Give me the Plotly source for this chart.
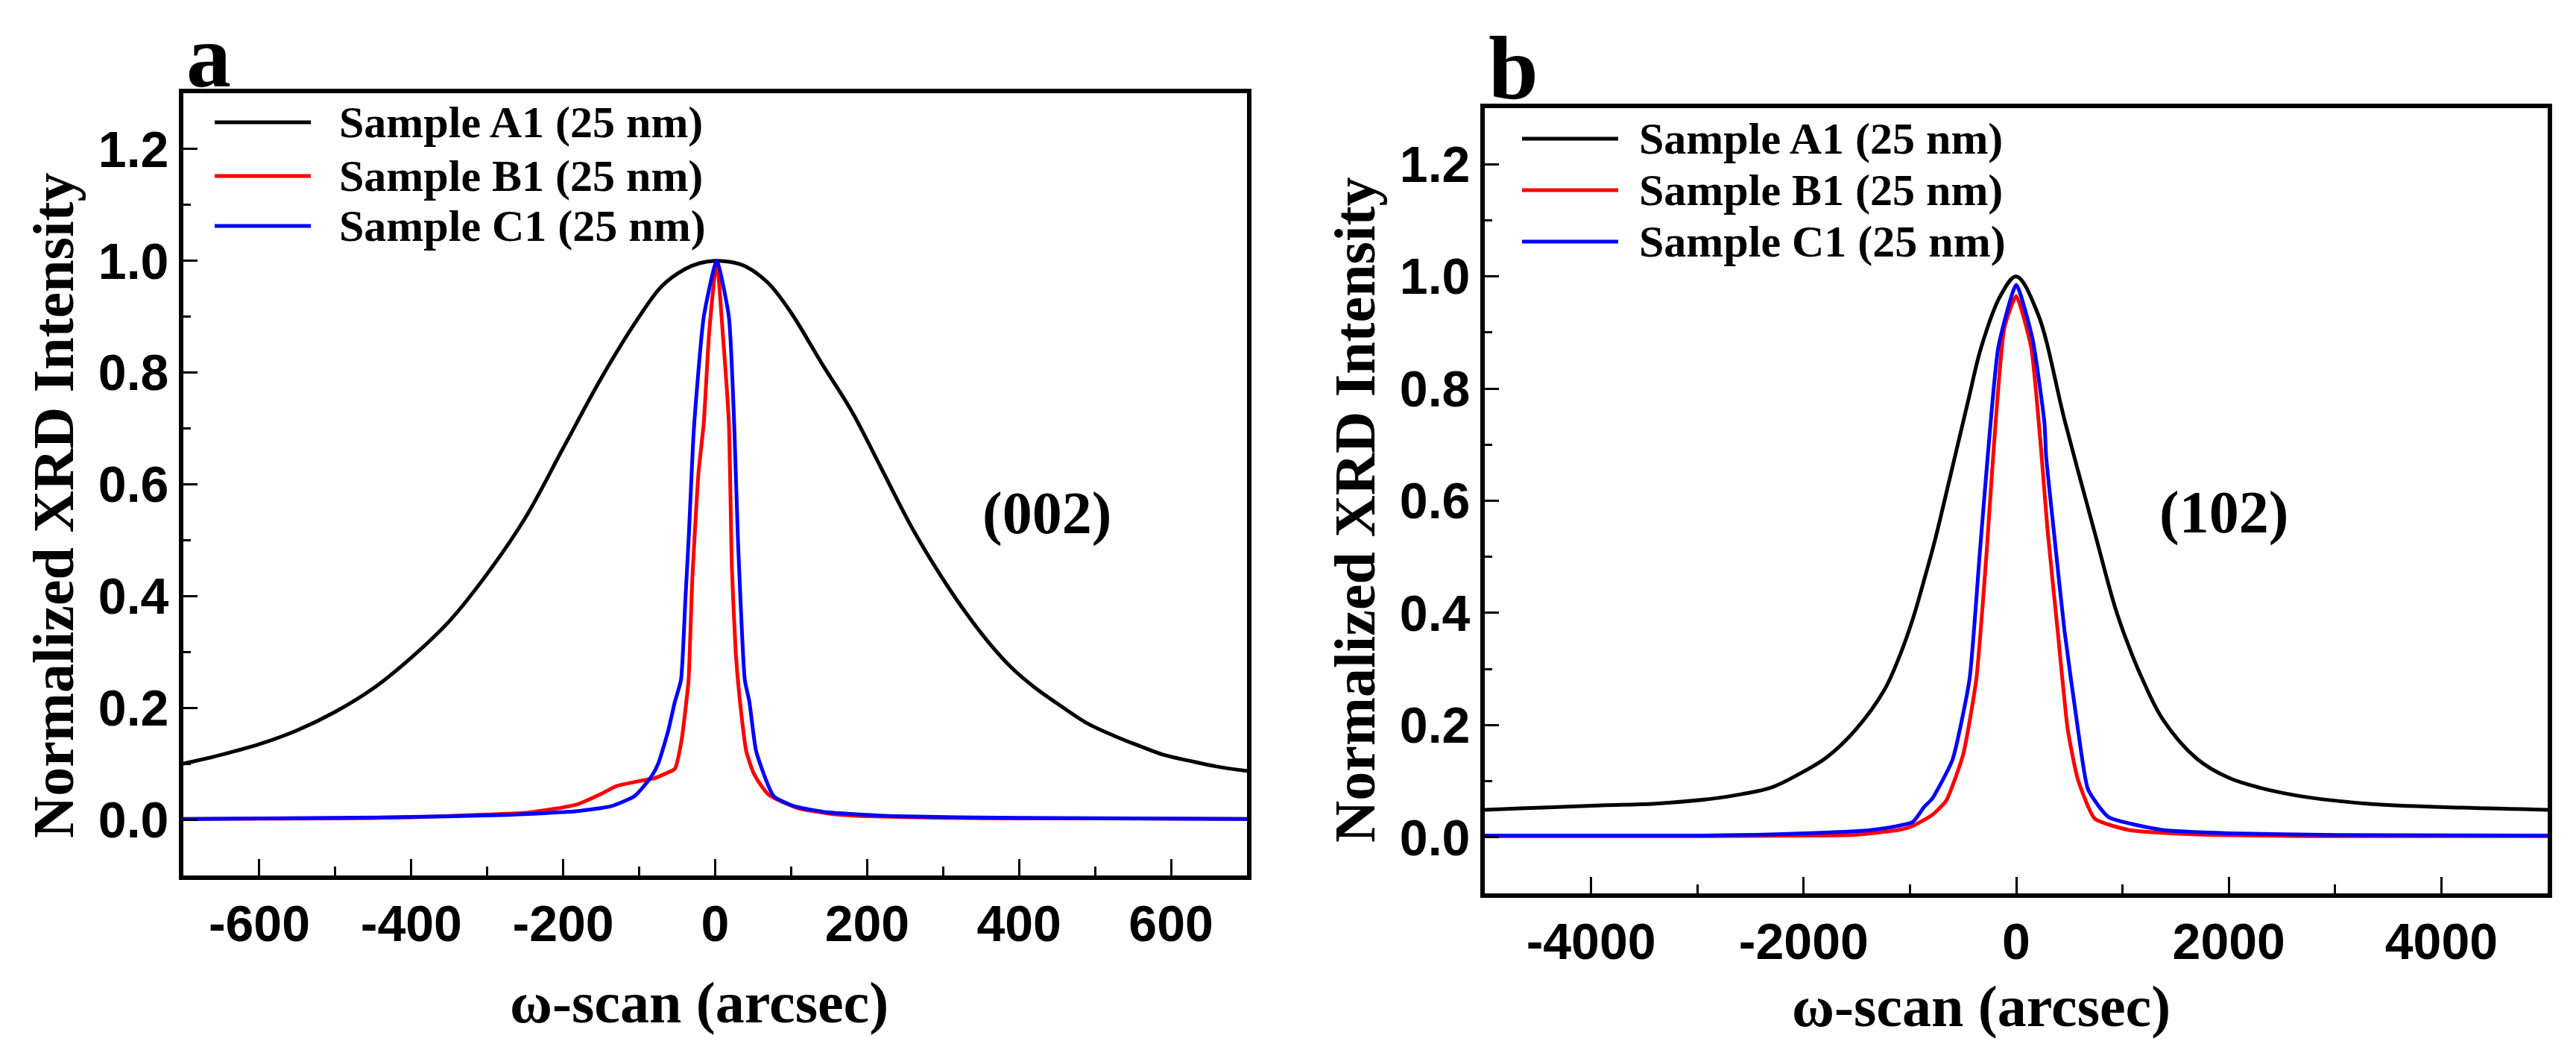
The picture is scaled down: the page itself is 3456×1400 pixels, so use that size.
import plotly.graph_objects as go

W, H = 3456, 1400

# ---- panel a: (002) omega-scan, arcsec ----
a_black_x = [-700, -650, -600, -550, -500, -450, -400, -350, -300, -250, -200, -150, -100, -70, -40, -20, 0,
             20, 40, 70, 100, 140, 180, 220, 260, 300, 330, 360, 390, 420, 450, 490, 525, 560, 590, 625, 660,
             700]
a_black_y = [0.100, 0.116, 0.135, 0.160, 0.193, 0.235, 0.290, 0.355, 0.440, 0.540, 0.665, 0.790, 0.900, 0.955,
             0.985, 0.996, 1.000, 0.998, 0.990, 0.960, 0.907, 0.817, 0.730, 0.625, 0.520, 0.430, 0.370, 0.317,
             0.272, 0.237, 0.208, 0.172, 0.150, 0.131, 0.116, 0.105, 0.095, 0.087]

a_red_x = [-700, -500, -400, -300, -250, -200, -180, -150, -130, -100, -80, -66, -53, -44, -38, -35, -30, -22,
           -15, -8, 2, 10, 18, 22, 27, 32, 41, 50, 59, 70, 86, 110, 130, 160, 200, 300, 400, 500, 700]
a_red_y = [0.001, 0.002, 0.004, 0.009, 0.012, 0.022, 0.028, 0.046, 0.060, 0.069, 0.074, 0.082, 0.091, 0.144,
           0.211, 0.250, 0.433, 0.620, 0.710, 0.870, 1.000, 0.870, 0.710, 0.450, 0.300, 0.220, 0.122, 0.085,
           0.064, 0.045, 0.033, 0.020, 0.015, 0.009, 0.006, 0.003, 0.002, 0.002, 0.001]

a_blue_x = [-700, -432, -271, -182, -137, -106, -84, -75, -62, -53, -45, -39, -35, -28, -15, 2, 18, 25, 30,
            39, 45, 54, 77, 104, 148, 237, 400, 700]
a_blue_y = [0.001, 0.004, 0.0085, 0.015, 0.024, 0.042, 0.077, 0.100, 0.158, 0.211, 0.250, 0.400, 0.500, 0.700,
            0.900, 1.000, 0.900, 0.709, 0.500, 0.250, 0.211, 0.122, 0.042, 0.024, 0.013, 0.006, 0.003, 0.001]

# ---- panel b: (102) omega-scan, arcsec ----
b_black_x = [-5000, -4460, -3900, -3400, -2850, -2580, -2300, -2050, -1780, -1510, -1240, -1110, -975, -850,
             -764, -600, -450, -329, -150, 0, 200, 460, 750, 930, 1050, 1180, 1380, 1700, 2000, 2300, 2650,
             3300, 4000, 5000]
b_black_y = [0.049, 0.053, 0.057, 0.060, 0.069, 0.077, 0.089, 0.112, 0.143, 0.192, 0.263, 0.317, 0.388, 0.470,
             0.530, 0.660, 0.780, 0.874, 0.965, 1.000, 0.935, 0.740, 0.535, 0.410, 0.345, 0.285, 0.210, 0.140,
             0.106, 0.088, 0.074, 0.060, 0.054, 0.049]

b_red_x = [-5000, -3000, -2000, -1510, -1108, -975, -790, -660, -500, -376, -280, -216, -112, 0, 140, 230, 294,
           389, 485, 580, 740, 1060, 1700, 3000, 5000]
b_red_y = [0.002, 0.002, 0.003, 0.0045, 0.013, 0.020, 0.040, 0.065, 0.147, 0.281, 0.504, 0.682, 0.908, 0.965,
           0.874, 0.700, 0.549, 0.370, 0.192, 0.103, 0.033, 0.013, 0.005, 0.002, 0.002]

b_blue_x = [-5000, -3000, -2450, -2046, -1490, -1240, -975, -867, -790, -600, -440, -344, -267, -168, 0, 154,
            266, 281, 357, 453, 581, 676, 868, 1378, 2016, 3000, 5000]
b_blue_y = [0.003, 0.003, 0.0045, 0.0067, 0.011, 0.016, 0.027, 0.054, 0.069, 0.138, 0.281, 0.504, 0.682,
            0.874, 0.985, 0.888, 0.738, 0.680, 0.540, 0.370, 0.192, 0.085, 0.036, 0.013, 0.007, 0.004, 0.003]

names = ["Sample A1 (25 nm)", "Sample B1 (25 nm)", "Sample C1 (25 nm)"]
colors = ["#000000", "#ff0000", "#0000ff"]

a_xticks = [-600, -400, -200, 0, 200, 400, 600]
a_xlabels = ["-600", "-400", "-200", "0", "200", "400", "600"]
b_xticks = [-4000, -2000, 0, 2000, 4000]
b_xlabels = ["-4000", "-2000", "0", "2000", "4000"]
yticks = [0.0, 0.2, 0.4, 0.6, 0.8, 1.0, 1.2]
ylabels = ["0.0", "0.2", "0.4", "0.6", "0.8", "1.0", "1.2"]

SERIF = "Liberation Serif"
SANS = "Liberation Sans"


def px(x):
    return x / W


def py(y):
    return 1 - y / H


fig = go.Figure()

panels = [
    ("x", "y", [(a_black_x, a_black_y), (a_red_x, a_red_y), (a_blue_x, a_blue_y)]),
    ("x2", "y2", [(b_black_x, b_black_y), (b_red_x, b_red_y), (b_blue_x, b_blue_y)]),
]
for xa, ya, series in panels:
    for i, (xs, ys) in enumerate(series):
        fig.add_trace(go.Scatter(
            x=xs, y=ys, mode="lines", name=names[i], showlegend=False,
            line=dict(color=colors[i], width=5,
                      shape="spline", smoothing=1.0 if i == 0 else 0.5),
            xaxis=xa, yaxis=ya,
        ))

tickfont = dict(family=SANS, size=68, color="black", weight="bold")
common = dict(showline=True, linewidth=6, linecolor="black", mirror=True, showgrid=False,
              zeroline=False, ticks="inside", tickwidth=3, tickcolor="black", tickfont=tickfont)

fig.update_layout(
    width=W, height=H,
    margin=dict(l=0, r=0, t=0, b=0),
    paper_bgcolor="white", plot_bgcolor="white",
    xaxis=dict(domain=[px(238), px(1665)], range=[-700, 700], anchor="y",
               tickvals=a_xticks, ticktext=a_xlabels, ticklen=22,
               minor=dict(dtick=100, tick0=0, ticks="inside", ticklen=12, tickwidth=3, tickcolor="black"),
               **common),
    yaxis=dict(domain=[py(1166), py(117)], range=[-0.1, 1.3], anchor="x",
               tickvals=yticks, ticktext=ylabels, ticklen=19,
               minor=dict(dtick=0.1, tick0=0, ticks="inside", ticklen=10, tickwidth=3, tickcolor="black"),
               **common),
    xaxis2=dict(domain=[px(1984), px(3410)], range=[-5000, 5000], anchor="y2",
                tickvals=b_xticks, ticktext=b_xlabels, ticklen=22,
                minor=dict(dtick=1000, tick0=0, ticks="inside", ticklen=12, tickwidth=3, tickcolor="black"),
                **common),
    yaxis2=dict(domain=[py(1190), py(137)], range=[-0.1, 1.3], anchor="x2",
                tickvals=yticks, ticktext=ylabels, ticklen=19,
                minor=dict(dtick=0.1, tick0=0, ticks="inside", ticklen=10, tickwidth=3, tickcolor="black"),
                **common),
)

# hand-drawn legends (long line samples as in the original)
legend_pos = [
    (280, 409, 445, [156, 228, 295]),
    (2034, 2163, 2189, [178, 247, 316]),
]
for x0, x1, xt, rows in legend_pos:
    for i, yr in enumerate(rows):
        fig.add_shape(type="line", xref="paper", yref="paper",
                      x0=px(x0), x1=px(x1), y0=py(yr), y1=py(yr),
                      line=dict(color=colors[i], width=5))
        fig.add_annotation(x=px(xt), y=py(yr), xref="paper", yref="paper",
                           text=names[i], showarrow=False, xanchor="left", yanchor="middle",
                           font=dict(family=SERIF, size=60, color="black", weight="bold"))

texts = [
    ("(002)", 1396, 680, 80, "center", "middle", 0),
    ("(102)", 2975, 679, 80, "center", "middle", 0),
    ("a", 240, 136, 120, "left", "bottom", 0),
    ("b", 1987, 152, 120, "left", "bottom", 0),
    ("ω-scan (arcsec)", 930, 1336, 78, "center", "middle", 0),
    ("ω-scan (arcsec)", 2650, 1341, 78, "center", "middle", 0),
    ("Normalized XRD Intensity", 63, 670, 78, "center", "middle", -90),
    ("Normalized XRD Intensity", 1809, 676, 78, "center", "middle", -90),
]
for t, x, y, s, xa, ya, ang in texts:
    fig.add_annotation(x=px(x), y=py(y), xref="paper", yref="paper", text=t, showarrow=False,
                       xanchor=xa, yanchor=ya, textangle=ang,
                       font=dict(family=SERIF, size=s, color="black", weight="bold"))

fig.write_html("out.html")
